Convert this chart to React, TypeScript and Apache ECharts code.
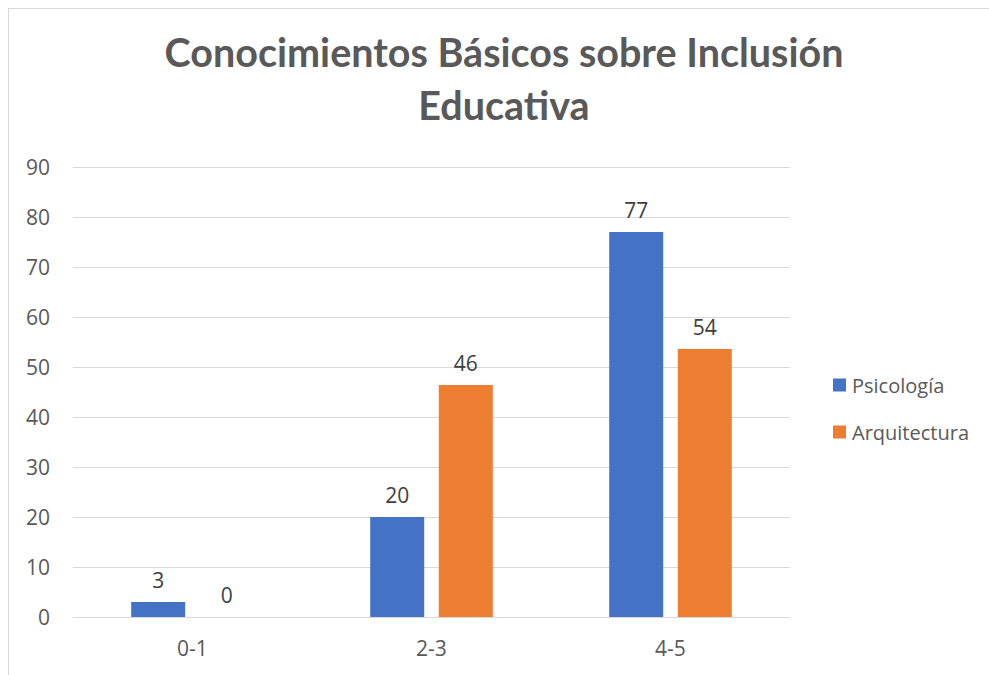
import React, { useEffect, useRef } from "react";
import * as echarts from "echarts";

const categories = ["0-1", "2-3", "4-5"];
const psicologia = [3, 20, 77];
const arquitectura = [0, 46.4, 53.6];
const seriesNames = ["Psicología", "Arquitectura"];
const titleText = "Conocimientos Básicos sobre Inclusión\nEducativa";

export default function App() {
  const ref = useRef<HTMLDivElement>(null);
  useEffect(() => {
    const chart = echarts.init(ref.current!, null, { renderer: "svg" });
    const labelStyle = {
      show: true,
      position: "top" as const,
      distance: 12,
      fontFamily: "Open Sans",
      fontSize: 21,
      color: "#404040",
      formatter: (p: any) => String(Math.round(p.value)),
    };
    chart.setOption({
      animation: false,
      backgroundColor: "#ffffff",
      title: {
        text: titleText,
        left: 499,
        top: 20,
        textAlign: "center",
        textStyle: {
          fontFamily: "Lato",
          fontWeight: "bold",
          fontSize: 39.5,
          lineHeight: 53,
          color: "#595959",
        },
      },
      graphic: [
        { type: "line", shape: { x1: 8.5, y1: 8, x2: 8.5, y2: 675 }, style: { stroke: "#d9d9d9", lineWidth: 1 } },
        { type: "line", shape: { x1: 8, y1: 8.5, x2: 989, y2: 8.5 }, style: { stroke: "#d9d9d9", lineWidth: 1 } },
      ],
      legend: {
        orient: "vertical",
        left: 828,
        top: 368,
        itemWidth: 13,
        itemHeight: 13,
        itemGap: 23,
        icon: "rect",
        textStyle: {
          fontFamily: "Open Sans",
          fontSize: 20,
          lineHeight: 24,
          color: "#595959",
          padding: [0, 0, 0, 1],
        },
        data: seriesNames,
      },
      grid: { left: 73, right: 199, top: 167, bottom: 58, containLabel: false },
      xAxis: {
        type: "category",
        data: categories,
        axisLine: { show: true, lineStyle: { color: "#d9d9d9", width: 1 } },
        axisTick: { show: false },
        axisLabel: { fontFamily: "Open Sans", fontSize: 21, color: "#595959", margin: 20 },
      },
      yAxis: {
        type: "value",
        min: 0,
        max: 90,
        interval: 10,
        axisLine: { show: false },
        axisTick: { show: false },
        splitLine: { lineStyle: { color: "#d9d9d9", width: 1 } },
        axisLabel: { fontFamily: "Open Sans", fontSize: 21, color: "#595959", margin: 23 },
      },
      series: [
        {
          name: seriesNames[0],
          type: "bar",
          data: psicologia,
          barWidth: 54,
          barGap: "27%",
          itemStyle: { color: "#4472C4" },
          label: labelStyle,
        },
        {
          name: seriesNames[1],
          type: "bar",
          data: arquitectura,
          barWidth: 54,
          barGap: "27%",
          itemStyle: { color: "#ED7D31" },
          label: labelStyle,
        },
      ],
    });
    return () => chart.dispose();
  }, []);
  return (
    <div
      ref={ref}
      style={{ position: "fixed", left: 0, top: 0, width: 989, height: 675, background: "#fff" }}
    />
  );
}
